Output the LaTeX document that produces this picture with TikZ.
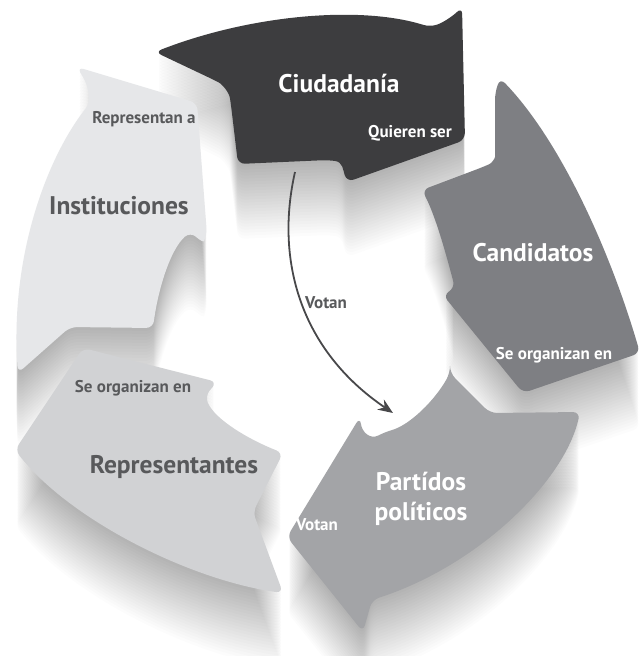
\documentclass[tikz,border=0pt]{standalone}
\usepackage{fontspec}
\setmainfont{PT Sans}
\usetikzlibrary{
  calc,positioning,
  arrows,arrows.meta
}
\definecolor{ciudgris}{HTML}{3D3D3F}
\definecolor{candgris}{HTML}{7E7F83}
\definecolor{partgris}{HTML}{A3A4A7}
\definecolor{repgris}{HTML}{D1D2D4}
\definecolor{instgris}{HTML}{E6E7E9}
\definecolor{textogris}{HTML}{58595B}
\definecolor{flechagris}{HTML}{48484A}

\newcommand{\ciudpath}{(155,52) .. controls (250,15) and (360,5) .. (430,27)
  .. controls (445,22) and (455,14) .. (462,7) -- (465,140) -- (347,182)
  .. controls (343,170) and (343,162) .. (328,160) -- (238,164) -- (231,105)
  .. controls (229,92) and (222,84) .. (212,79) -- cycle}
\newcommand{\candpath}{(500,78) .. controls (560,140) and (610,250) .. (640,353)
  -- (523,393) -- (443,295) -- (455,288)
  .. controls (445,250) and (435,215) .. (422,190) -- (483,167)
  .. controls (492,163) and (495,158) .. (495,150) -- (495,93) -- cycle}
\newcommand{\partpath}{(450,373) -- (490,413) -- (580,412)
  .. controls (565,480) and (480,565) .. (372,600) -- (363,632) -- (287,537)
  -- (360,417) .. controls (362,432) and (370,440) .. (385,432)
  .. controls (410,425) and (435,400) .. cycle}
\newcommand{\reppath}{(83,348) -- (217,382) -- (205,396)
  .. controls (215,420) and (250,440) .. (283,453) -- (253,512) -- (283,593)
  .. controls (190,580) and (70,520) .. (15,450) -- cycle}
\newcommand{\instpath}{(77,67) -- (197,103) -- (207,235)
  .. controls (203,243) and (195,236) .. (190,232)
  .. controls (170,250) and (158,290) .. (153,328) -- (70,327) -- (18,373)
  .. controls (10,260) and (45,160) .. (90,103) -- (87,84) -- cycle}

\begin{document}
\begin{tikzpicture}[x=1pt,y=-1pt,
  forma/.style={rounded corners=7pt},
  sombra/.style={fill=black,opacity=0.011,rounded corners=7pt},
  grande/.style={font={\fontsize{25.5}{30}\selectfont\bfseries},align=center},
  chico/.style={font={\fontsize{17}{20}\selectfont\bfseries}},
  flecha/.style={flechagris,line width=1.8pt,-{Stealth[length=15pt,width=12pt]}}
]
\useasboundingbox (0,0) rectangle (642,656);
\fill[white] (0,0) rectangle (642,656);

\foreach \d in {3,6,...,75} {
  \fill[sombra,shift={(0,\d)}] \instpath;
  \fill[sombra,shift={(0,\d)}] \reppath;
  \fill[sombra,shift={(0,\d)}] \partpath;
  \fill[sombra,shift={(0,\d)}] \candpath;
  \fill[sombra,shift={(0,\d)}] \ciudpath;
}

\fill[forma,instgris] \instpath;
\fill[forma,repgris] \reppath;
\fill[forma,partgris] \partpath;
\fill[forma,candgris] \candpath;
\fill[forma,ciudgris] \ciudpath;

\node[grande,white] (ciudadania) at (339,83) {Ciudadanía};
\node[chico,white] (quieren) at (410,133) {Quieren ser};
\node[grande,white] (candidatos) at (533,253) {Candidatos};
\node[chico,white] (organizancand) at (554,355) {Se organizan en};
\node[grande,white] (partidos) at (421,499) {Partídos\\políticos};
\node[chico,white] (votanpart) at (317,525) {Votan};
\node[chico,textogris] (organizanrep) at (133,388) {Se organizan en};
\node[grande,textogris] (representantes) at (174,467) {Representantes};
\node[chico,textogris] (representan) at (144,119) {Representan a};
\node[grande,textogris] (instituciones) at (119,206) {Instituciones};
\node[chico,textogris] (votan) at (326,303) {Votan};

\coordinate (desde) at (295,172);
\coordinate (hasta) at (393,413);
\draw[flecha] (desde) .. controls (275,260) and (300,350) .. (hasta);
\end{tikzpicture}
\end{document}
